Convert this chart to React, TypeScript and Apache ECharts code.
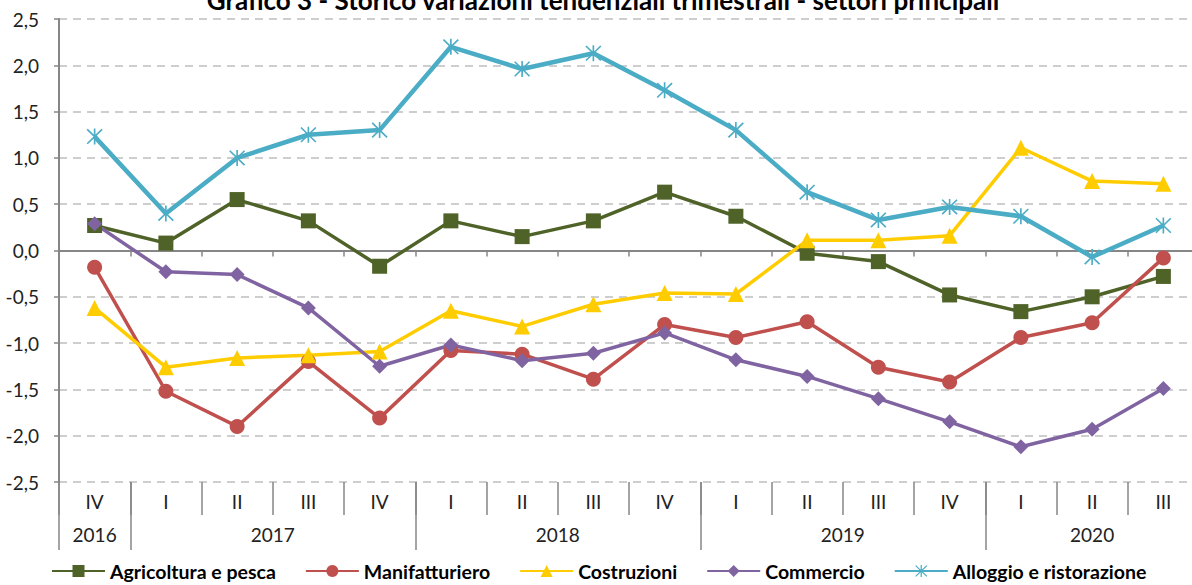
import React, { useEffect, useRef } from "react";
import * as echarts from "echarts";

const titleText = "Grafico 3 - Storico variazioni tendenziali trimestrali - settori principali";
const years = ["2016", "2017", "2018", "2019", "2020"];
const quartersPerYear = [["IV"], ["I", "II", "III", "IV"], ["I", "II", "III", "IV"], ["I", "II", "III", "IV"], ["I", "II", "III"]];
const yTicks = [-2.5, -2.0, -1.5, -1.0, -0.5, 0.0, 0.5, 1.0, 1.5, 2.0, 2.5];

const agricoltura = [0.27, 0.08, 0.55, 0.32, -0.17, 0.32, 0.15, 0.32, 0.63, 0.37, -0.03, -0.12, -0.48, -0.66, -0.5, -0.28];
const manifatturiero = [-0.18, -1.52, -1.9, -1.2, -1.81, -1.08, -1.12, -1.39, -0.8, -0.94, -0.77, -1.26, -1.42, -0.94, -0.78, -0.08];
const costruzioni = [-0.62, -1.26, -1.16, -1.13, -1.09, -0.65, -0.82, -0.58, -0.46, -0.47, 0.11, 0.11, 0.16, 1.11, 0.75, 0.72];
const commercio = [0.29, -0.23, -0.26, -0.62, -1.25, -1.02, -1.19, -1.11, -0.89, -1.18, -1.36, -1.6, -1.85, -2.12, -1.93, -1.49];
const alloggio = [1.23, 0.4, 1.0, 1.25, 1.3, 2.2, 1.96, 2.13, 1.73, 1.3, 0.63, 0.33, 0.47, 0.37, -0.07, 0.27];

const seriesNames = ["Agricoltura e pesca", "Manifatturiero", "Costruzioni", "Commercio", "Alloggio e ristorazione"];

const STAR =
  "path://M9 0 L11 0 L11 20 L9 20 Z M0.3 1.7 L1.7 0.3 L19.7 18.3 L18.3 19.7 Z M18.3 0.3 L19.7 1.7 L1.7 19.7 L0.3 18.3 Z";

const FONT = "Lato, 'Open Sans', sans-serif";

export default function App() {
  const ref = useRef<HTMLDivElement>(null);

  useEffect(() => {
    if (!ref.current) return;
    const chart = echarts.init(ref.current, null, { renderer: "svg" });

    const categories: string[] = [];
    quartersPerYear.forEach((qs, yi) => qs.forEach((q) => categories.push(years[yi] + " " + q)));
    const n = categories.length;

    const yearCenters: number[] = [];
    const yearBounds: number[] = [];
    let start = 0;
    quartersPerYear.forEach((qs) => {
      yearBounds.push(start - 0.5);
      yearCenters.push(start + (qs.length - 1) / 2);
      start += qs.length;
    });

    const fmt = (v: number) => v.toFixed(1).replace(".", ",");

    const mk = (name: string, data: number[], color: string, symbol: string, size: number, width: number) => ({
      name,
      type: "line",
      data,
      xAxisIndex: 0,
      yAxisIndex: 0,
      symbol,
      symbolSize: size,
      showAllSymbol: true,
      lineStyle: { color, width },
      itemStyle: { color, borderWidth: 0 },
      emphasis: { disabled: true },
    });

    const tickColor = "#868686";

    const option: any = {
      animation: false,
      backgroundColor: "#ffffff",
      textStyle: { fontFamily: FONT },
      title: {
        text: titleText,
        left: 598,
        textAlign: "center",
        top: -18,
        textStyle: { fontFamily: FONT, fontWeight: "bold", fontSize: 26, color: "#000" },
      },
      legend: {
        bottom: -1,
        left: 46,
        itemWidth: 53,
        itemHeight: 15,
        itemGap: 29,
        data: seriesNames,
        textStyle: { fontFamily: FONT, fontWeight: "bold", fontSize: 19.5, color: "#000" },
      },
      grid: { left: 59, width: 1140, top: 19, bottom: 103, containLabel: false, outerBoundsMode: "none" },
      xAxis: [
        {
          type: "category",
          data: categories,
          boundaryGap: true,
          axisLine: { show: true, onZero: true, lineStyle: { color: tickColor, width: 2 } },
          axisTick: { show: true, length: 6, interval: 0, lineStyle: { color: tickColor, width: 1.5 } },
          axisLabel: { show: false },
          splitLine: { show: false },
        },
        {
          type: "category",
          data: categories,
          boundaryGap: true,
          position: "bottom",
          offset: 0,
          axisLine: { show: false, onZero: false },
          axisTick: { show: true, length: 33, interval: 0, lineStyle: { color: tickColor, width: 1.5 } },
          axisLabel: {
            show: true,
            interval: 0,
            margin: 10,
            fontSize: 19,
            color: "#222",
            fontFamily: FONT,
            formatter: (v: string) => v.split(" ")[1],
          },
          splitLine: { show: false },
        },
        {
          type: "value",
          min: -0.5,
          max: n - 0.5,
          position: "bottom",
          offset: 0,
          axisLine: { show: false, onZero: false },
          axisTick: { show: true, length: 68, customValues: yearBounds, lineStyle: { color: tickColor, width: 1.5 } },
          axisLabel: {
            show: true,
            margin: 43,
            fontSize: 19,
            color: "#222",
            fontFamily: FONT,
            customValues: yearCenters,
            formatter: (v: number) => {
              const i = yearCenters.findIndex((c) => Math.abs(c - v) < 1e-6);
              return i >= 0 ? years[i] : "";
            },
          },
          splitLine: { show: false },
        },
      ],
      yAxis: {
        type: "value",
        min: -2.5,
        max: 2.5,
        interval: 0.5,
        axisLine: { show: true, onZero: false, lineStyle: { color: tickColor, width: 2 } },
        axisTick: { show: true, length: 5, lineStyle: { color: tickColor, width: 1.5 } },
        axisLabel: {
          margin: 20,
          fontSize: 19,
          color: "#222",
          fontFamily: FONT,
          formatter: (v: number) => (yTicks.some((t) => Math.abs(t - v) < 1e-6) ? fmt(v) : ""),
        },
        splitLine: { show: true, lineStyle: { color: "#bfbfbf", width: 1.5, type: [8, 6] } },
      },
      series: [
        mk(seriesNames[0], agricoltura, "#4F6228", "rect", 15, 3.5),
        mk(seriesNames[1], manifatturiero, "#C0504D", "circle", 15, 3.5),
        mk(seriesNames[2], costruzioni, "#FFCC00", "triangle", 16, 3.5),
        mk(seriesNames[3], commercio, "#8064A2", "diamond", 15, 3.5),
        mk(seriesNames[4], alloggio, "#4BACC6", STAR, 16, 4.5),
      ],
    };

    chart.setOption(option);
    return () => chart.dispose();
  }, []);

  return (
    <div
      ref={ref}
      style={{ position: "fixed", left: 0, top: 0, width: 1192, height: 585, background: "#fff" }}
    />
  );
}
